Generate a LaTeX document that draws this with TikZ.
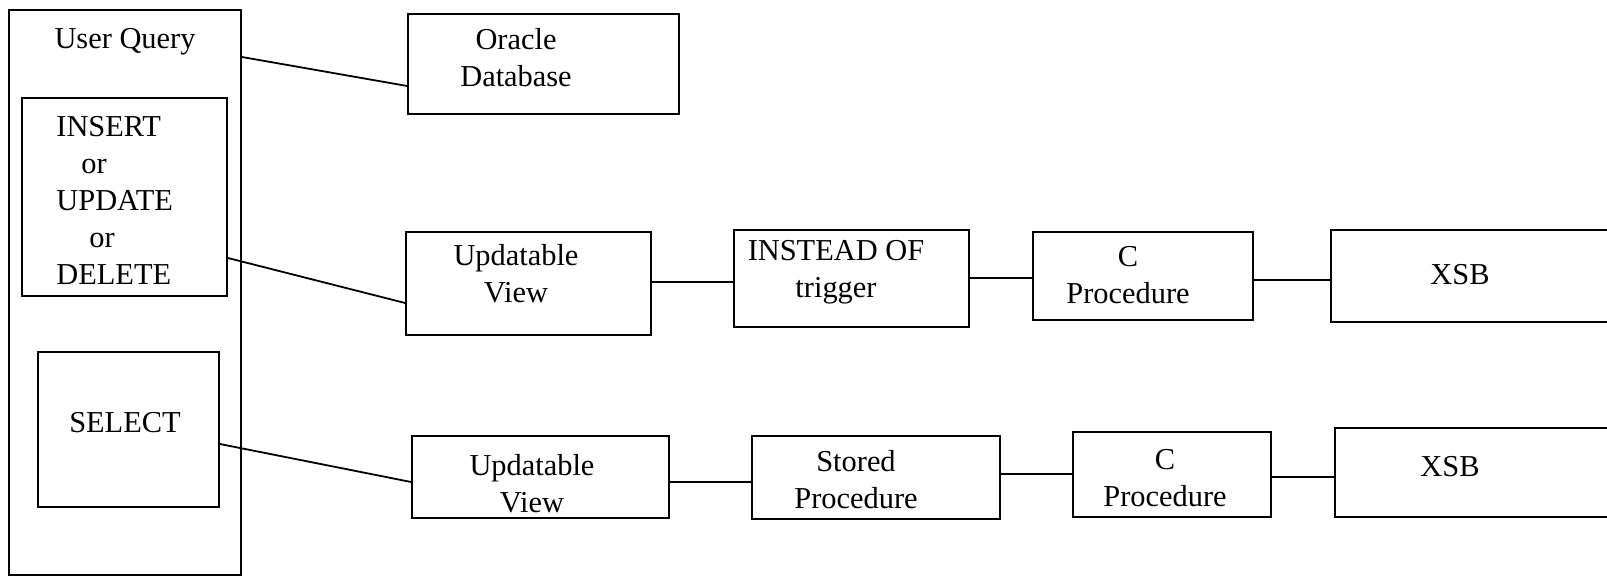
\documentclass[tikz,border=0pt]{standalone}
\usepackage{fontspec}
\setmainfont{Liberation Serif}
\usetikzlibrary{fit}

\tikzset{
  box/.style={draw, line width=0.9pt, inner sep=0pt},
  txt/.style={font=\fontsize{15.2}{18.5}\selectfont, inner sep=0pt, align=center, anchor=base},
  link/.style={line width=0.9pt}
}

\begin{document}
\begin{tikzpicture}[x=0.5pt,y=-0.5pt]
      \useasboundingbox (0,0) rectangle (1607,576);
      % left column
      \node[box, fit={(9,10) (241,575)}] (query) {};
      \node[box, fit={(22,98) (227,296)}] (modify) {};
      \node[box, fit={(38,352) (219,507)}] (select) {};
      \node[txt] (querytxt) at (125,49) {User Query};
      \node[txt, align=left, anchor=base west] (modifytxt) at (56,285) {INSERT\\\hspace*{12.5pt}or\\UPDATE\\\hspace*{16.5pt}or\\DELETE};
      \node[txt] (selecttxt) at (125,433) {SELECT};
      % database
      \node[box, fit={(408,14) (679,114)}] (oracle) {};
      \node[txt] (oracletxt) at (516,87) {Oracle\\Database};
      % update path
      \node[box, fit={(406,232) (651,335)}] (view1) {};
      \node[box, fit={(734,230) (969,327)}] (trigger) {};
      \node[box, fit={(1033,232) (1253,320)}] (cproc1) {};
      \node[box, fit={(1331,230) (1614,322)}] (xsb1) {};
      \node[txt] (view1txt) at (516,303) {Updatable\\View};
      \node[txt] (triggertxt) at (836,298) {INSTEAD OF\\trigger};
      \node[txt] (cproc1txt) at (1128,304) {C\\Procedure};
      \node[txt] (xsb1txt) at (1460,285) {XSB};
      % select path
      \node[box, fit={(412,436) (669,518)}] (view2) {};
      \node[box, fit={(752,436) (1000,519)}] (stored) {};
      \node[box, fit={(1073,432) (1271,517)}] (cproc2) {};
      \node[box, fit={(1335,428) (1614,517)}] (xsb2) {};
      \node[txt] (view2txt) at (532,513) {Updatable\\View};
      \node[txt] (storedtxt) at (856,509) {Stored\\Procedure};
      \node[txt] (cproc2txt) at (1165,507) {C\\Procedure};
      \node[txt] (xsb2txt) at (1450,477) {XSB};
      % connectors
      \draw[link] (query.east |- 0,57) -- (oracle.west |- 0,86);
      \draw[link] (modify.east |- 0,258) -- (view1.west |- 0,303);
      \draw[link] (select.east |- 0,444) -- (view2.west |- 0,482);
      \draw[link] (view1.east |- 0,282) -- (trigger.west |- 0,282);
      \draw[link] (trigger.east |- 0,278) -- (cproc1.west |- 0,278);
      \draw[link] (cproc1.east |- 0,280) -- (xsb1.west |- 0,280);
      \draw[link] (view2.east |- 0,482) -- (stored.west |- 0,482);
      \draw[link] (stored.east |- 0,474) -- (cproc2.west |- 0,474);
      \draw[link] (cproc2.east |- 0,477) -- (xsb2.west |- 0,477);
\end{tikzpicture}
\end{document}
